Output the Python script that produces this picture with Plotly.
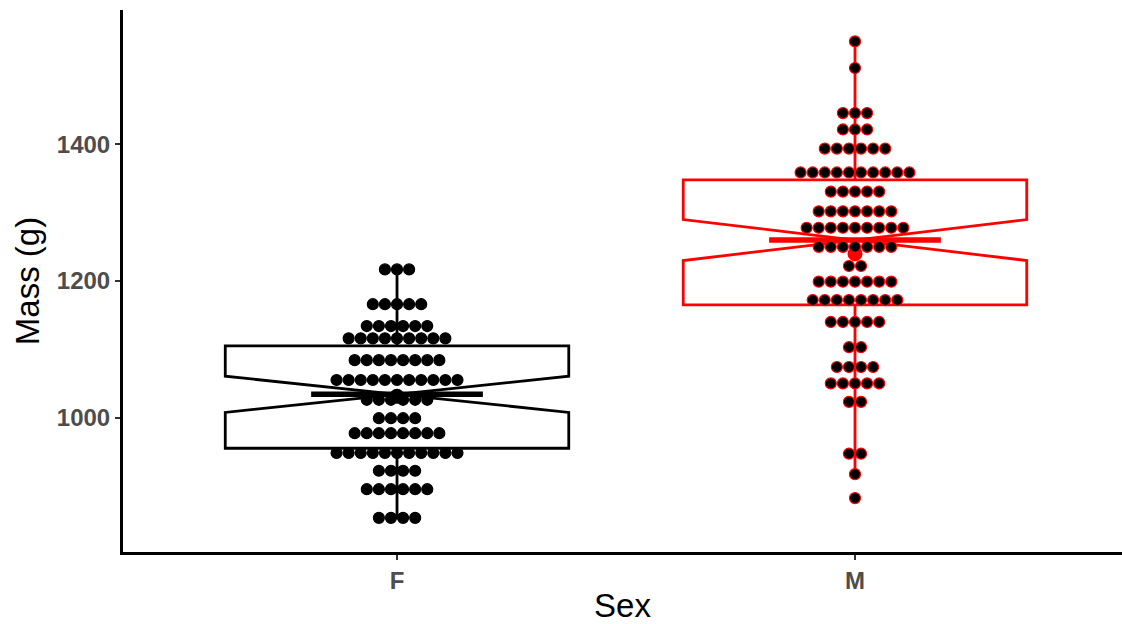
import plotly.graph_objects as go

# ---- data ----
categories = ["F", "M"]
cat_pos = [1, 2]

# dot-plot rows (bin centre value in g, number of dots)
F_rows = [1217, 1166, 1134, 1116, 1084, 1055, 1026, 999, 977, 948, 922, 895, 853]
F_counts = [3, 5, 6, 9, 8, 11, 6, 4, 8, 11, 4, 6, 4]
M_rows = [1551, 1512, 1446, 1422, 1394, 1359, 1331, 1302, 1278, 1250, 1222,
          1199, 1172, 1140, 1103, 1074, 1050, 1023, 947, 917, 882]
M_counts = [1, 1, 3, 3, 6, 10, 5, 7, 9, 7, 2, 7, 8, 5, 2, 4, 5, 2, 2, 1, 1]

# box statistics
q1 = [955, 1165]
median = [1034, 1260]
q3 = [1105, 1348]
lowerfence = [851, 917]
upperfence = [1219, 1551]
notchspan = [26.5, 30]
means = [1031, 1240]

y_ticks = [1000, 1200, 1400]

colors = ["black", "red"]
box_width = 0.75
dot_w = 0.0264  # dot diameter in x data units

FONT = "Liberation Sans, Arial, sans-serif"

fig = go.Figure()

for i in range(2):
    fig.add_trace(go.Box(
        x=[cat_pos[i]], q1=[q1[i]], median=[median[i]], q3=[q3[i]],
        lowerfence=[lowerfence[i]], upperfence=[upperfence[i]],
        notchspan=[notchspan[i]], notched=True, notchwidth=0.5,
        whiskerwidth=0, width=box_width, boxpoints=False,
        fillcolor="rgba(0,0,0,0)", line=dict(color=colors[i], width=2.8),
        showlegend=False, hoverinfo="skip"))
    # thick median line
    hw = box_width / 4
    fig.add_trace(go.Scatter(
        x=[cat_pos[i] - hw, cat_pos[i] + hw], y=[median[i], median[i]],
        mode="lines", line=dict(color=colors[i], width=5.5),
        showlegend=False, hoverinfo="skip"))
    # mean point
    fig.add_trace(go.Scatter(
        x=[cat_pos[i]], y=[means[i]], mode="markers",
        marker=dict(color=colors[i], size=15, line=dict(width=0)),
        showlegend=False, hoverinfo="skip"))

# dots
for i, (rows, counts) in enumerate([(F_rows, F_counts), (M_rows, M_counts)]):
    xs, ys = [], []
    for v, n in zip(rows, counts):
        for k in range(n):
            xs.append(cat_pos[i] + (k - (n - 1) / 2) * dot_w)
            ys.append(v)
    fig.add_trace(go.Scatter(
        x=xs, y=ys, mode="markers",
        marker=dict(color="black", size=11,
                    line=dict(color=colors[i], width=1.2)),
        showlegend=False, hoverinfo="skip"))

fig.update_layout(
    width=1122, height=624,
    margin=dict(l=123, r=0, t=10, b=72),
    paper_bgcolor="white", plot_bgcolor="white",
    font=dict(family=FONT),
)
fig.update_xaxes(
    range=[0.4017, 2.583], tickvals=cat_pos, ticktext=categories,
    showgrid=False, zeroline=False,
    showline=True, linecolor="black", linewidth=3,
    ticks="outside", ticklen=5, tickwidth=1.5, tickcolor="#333333",
    tickfont=dict(size=24, color="#4D4D4D", family=FONT, weight="bold"),
    title=dict(text="Sex", font=dict(size=33, color="black", family=FONT), standoff=2),
)
fig.update_yaxes(
    range=[803, 1597], tickvals=y_ticks,
    showgrid=False, zeroline=False,
    showline=True, linecolor="black", linewidth=3,
    ticks="outside", ticklen=5, tickwidth=1.5, tickcolor="#333333",
    tickfont=dict(size=24, color="#4D4D4D", family=FONT, weight="bold"),
    title=dict(text="Mass (g)", font=dict(size=33, color="black", family=FONT), standoff=8),
)

fig.write_html("out.html")
